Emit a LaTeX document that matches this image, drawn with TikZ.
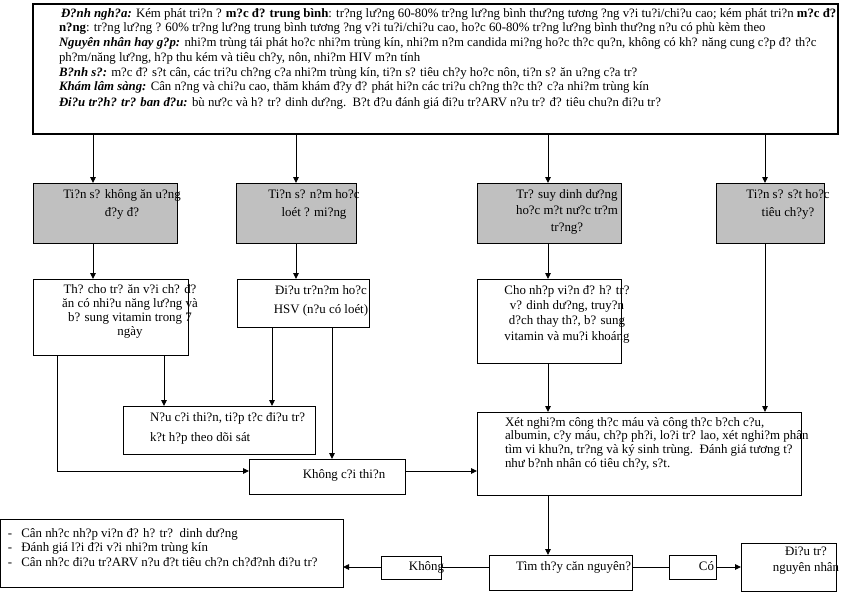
\documentclass[tikz,border=0pt]{standalone}
\usepackage{fontspec}
\setmainfont{Liberation Serif}
\usetikzlibrary{arrows.meta}
\definecolor{boxgray}{HTML}{C0C0C0}
\begin{document}
\begin{tikzpicture}[x=1pt,y=-1pt,
 box/.style={draw, line width=0.9pt, anchor=north west, inner sep=0pt, outer sep=0pt},
 gbox/.style={box, fill=boxgray},
 txt/.style={inner sep=0pt, outer sep=0pt, align=center, font=\fontsize{12.9}{14}\selectfont},
 ttxt/.style={inner sep=0pt, outer sep=0pt, anchor=base west, font=\fontsize{12.8}{14}\selectfont},
 ln/.style={line width=0.9pt},
 arr/.style={ln, -{Triangle[length=6pt,width=5.5pt]}}]
\useasboundingbox (0,0) rectangle (858,594);
% boxes
\node[box, line width=1.3pt, minimum width=805pt, minimum height=130pt] (top) at (33,4) {};
\node[gbox, minimum width=144pt, minimum height=60pt] (g1) at (33,183) {};
\node[gbox, minimum width=120pt, minimum height=60pt] (g2) at (236,183) {};
\node[gbox, minimum width=144pt, minimum height=60pt] (g3) at (477,183) {};
\node[gbox, minimum width=108pt, minimum height=60pt] (g4) at (716,183) {};
\node[box, minimum width=155pt, minimum height=76pt] (A) at (33,279) {};
\node[box, minimum width=132pt, minimum height=48pt] (B) at (237,279) {};
\node[box, minimum width=144pt, minimum height=84pt] (C) at (477,279) {};
\node[box, minimum width=192pt, minimum height=48pt] (N) at (123,406) {};
\node[box, minimum width=156pt, minimum height=35pt] (K) at (249,459) {};
\node[box, minimum width=324pt, minimum height=83pt] (X) at (477,412) {};
\node[box, minimum width=342.5pt, minimum height=68pt] (L) at (0.5,519) {};
\node[box, minimum width=60pt, minimum height=23pt] (Kh) at (381,556) {};
\node[box, minimum width=143pt, minimum height=35pt] (T) at (489,555) {};
\node[box, minimum width=47pt, minimum height=24pt] (Co) at (669,555) {};
\node[box, minimum width=95pt, minimum height=48pt] (D) at (741,543) {};
% guides
\coordinate (v1) at (93,0);
\coordinate (v2) at (296,0);
\coordinate (v3) at (548,0);
\coordinate (v4) at (765,0);
\coordinate (va) at (57,0);
\coordinate (vb) at (164,0);
\coordinate (vc) at (272,0);
\coordinate (vd) at (332,0);
\coordinate (h1) at (0,471);
\coordinate (h2) at (0,567);
% connectors
\draw[arr] (top.south -| v1) -- (g1.north -| v1);
\draw[arr] (top.south -| v2) -- (g2.north -| v2);
\draw[arr] (top.south -| v3) -- (g3.north -| v3);
\draw[arr] (top.south -| v4) -- (g4.north -| v4);
\draw[arr] (g1.south -| v1) -- (A.north -| v1);
\draw[arr] (g2.south -| v2) -- (B.north -| v2);
\draw[arr] (g3.south -| v3) -- (C.north -| v3);
\draw[arr] (g4.south -| v4) -- (X.north -| v4);
\draw[arr] (A.south -| vb) -- (N.north -| vb);
\draw[arr] (B.south -| vc) -- (N.north -| vc);
\draw[arr] (A.south -| va) |- (K.west |- h1);
\draw[arr] (B.south -| vd) -- (K.north -| vd);
\draw[arr] (K.east |- h1) -- (X.west |- h1);
\draw[arr] (C.south -| v3) -- (X.north -| v3);
\draw[arr] (X.south -| v3) -- (T.north -| v3);
\draw[ln] (T.east |- h2) -- (Co.west |- h2);
\draw[arr] (Co.east |- h2) -- (D.west |- h2);
\draw[ln] (T.west |- h2) -- (Kh.east |- h2);
\draw[arr] (Kh.west |- h2) -- (L.east |- h2);
% top text
\node[ttxt] (tl1) at (61,18) {\textbf{\textit{Đ?nh ngh?a:}} Kém phát tri?n ? \textbf{m?c đ? trung bình}: tr?ng lư?ng 60-80\% tr?ng lư?ng bình thư?ng tương ?ng v?i tu?i/chi?u cao; kém phát tri?n \textbf{m?c đ?}};
\node[ttxt] (tl2) at (59,32) {\textbf{n?ng}: tr?ng lư?ng ? 60\% tr?ng lư?ng trung bình tương ?ng v?i tu?i/chi?u cao, ho?c 60-80\% tr?ng lư?ng bình thư?ng n?u có phù kèm theo};
\node[ttxt] (tl3) at (59,46.5) {\textbf{\textit{Nguyên nhân hay g?p:}} nhi?m trùng tái phát ho?c nhi?m trùng kín, nhi?m n?m candida mi?ng ho?c th?c qu?n, không có kh? năng cung c?p đ? th?c};
\node[ttxt] (tl4) at (59,61) {ph?m/năng lư?ng, h?p thu kém và tiêu ch?y, nôn, nhi?m HIV m?n tính};
\node[ttxt] (tl5) at (59,76) {\textbf{\textit{B?nh s?:}} m?c đ? s?t cân, các tri?u ch?ng c?a nhi?m trùng kín, ti?n s? tiêu ch?y ho?c nôn, ti?n s? ăn u?ng c?a tr?};
\node[ttxt] (tl6) at (59,90.5) {\textbf{\textit{Khám lâm sàng:}} Cân n?ng và chi?u cao, thăm khám đ?y đ? phát hi?n các tri?u ch?ng th?c th? c?a nhi?m trùng kín};
\node[ttxt] (tl7) at (59,106) {\textbf{\textit{Đi?u tr?h? tr? ban đ?u:}} bù nư?c và h? tr? dinh dư?ng.\ \ B?t đ?u đánh giá đi?u tr?ARV n?u tr? đ? tiêu chu?n đi?u tr?};
% box texts
\node[txt, font=\fontsize{12.9}{18}\selectfont] (tg1) at (122,204) {Ti?n s? không ăn u?ng\\đ?y đ?};
\node[txt, font=\fontsize{12.9}{18}\selectfont] (tg2) at (314,204) {Ti?n s? n?m ho?c\\loét ? mi?ng};
\node[txt, font=\fontsize{12.9}{16.5}\selectfont] (tg3) at (567,211.5) {Tr? suy dinh dư?ng\\ho?c m?t nư?c tr?m\\tr?ng?};
\node[txt, font=\fontsize{12.9}{18}\selectfont] (tg4) at (788,204) {Ti?n s? s?t ho?c\\tiêu ch?y?};
\node[txt, font=\fontsize{12.9}{14}\selectfont] (tA) at (130,311) {Th? cho tr? ăn v?i ch? đ?\\ăn có nhi?u năng lư?ng và\\b? sung vitamin trong 7\\ngày};
\node[txt, font=\fontsize{12.9}{19}\selectfont] (tB) at (321,300.5) {Đi?u tr?n?m ho?c\\HSV (n?u có loét)};
\node[txt, font=\fontsize{12.9}{15.3}\selectfont] (tC) at (567,314) {Cho nh?p vi?n đ? h? tr?\\v? dinh dư?ng, truy?n\\d?ch thay th?, b? sung\\vitamin và mu?i khoáng};
\node[txt, align=left, anchor=west, font=\fontsize{12.9}{20}\selectfont] (tN) at (150,428) {N?u c?i thi?n, ti?p t?c đi?u tr?\\k?t h?p theo dõi sát};
\node[txt] (tK) at (344,475) {Không c?i thi?n};
\node[txt, align=left, anchor=west, font=\fontsize{12.9}{13.7}\selectfont] (tX) at (505,443.5) {Xét nghi?m công th?c máu và công th?c b?ch c?u,\\albumin, c?y máu, ch?p ph?i, lo?i tr? lao, xét nghi?m phân\\tìm vi khu?n, tr?ng và ký sinh trùng.\ \ Đánh giá tương t?\\như b?nh nhân có tiêu ch?y, s?t.};
\node[txt, align=left, anchor=west, font=\fontsize{12.9}{14.5}\selectfont] (tL) at (8,547.5) {-\hspace{9pt}Cân nh?c nh?p vi?n đ? h? tr?\ \ dinh dư?ng\\-\hspace{9pt}Đánh giá l?i đ?i v?i nhi?m trùng kín\\-\hspace{9pt}Cân nh?c đi?u tr?ARV n?u đ?t tiêu ch?n ch?đ?nh đi?u tr?};
\node[txt] (tKh) at (426.5,567) {Không};
\node[txt] (tT) at (573.5,567) {Tìm th?y căn nguyên?};
\node[txt] (tCo) at (706.5,566) {Có};
\node[txt, font=\fontsize{12.9}{16}\selectfont] (tD) at (806,561) {Đi?u tr?\\nguyên nhân};
\end{tikzpicture}
\end{document}
